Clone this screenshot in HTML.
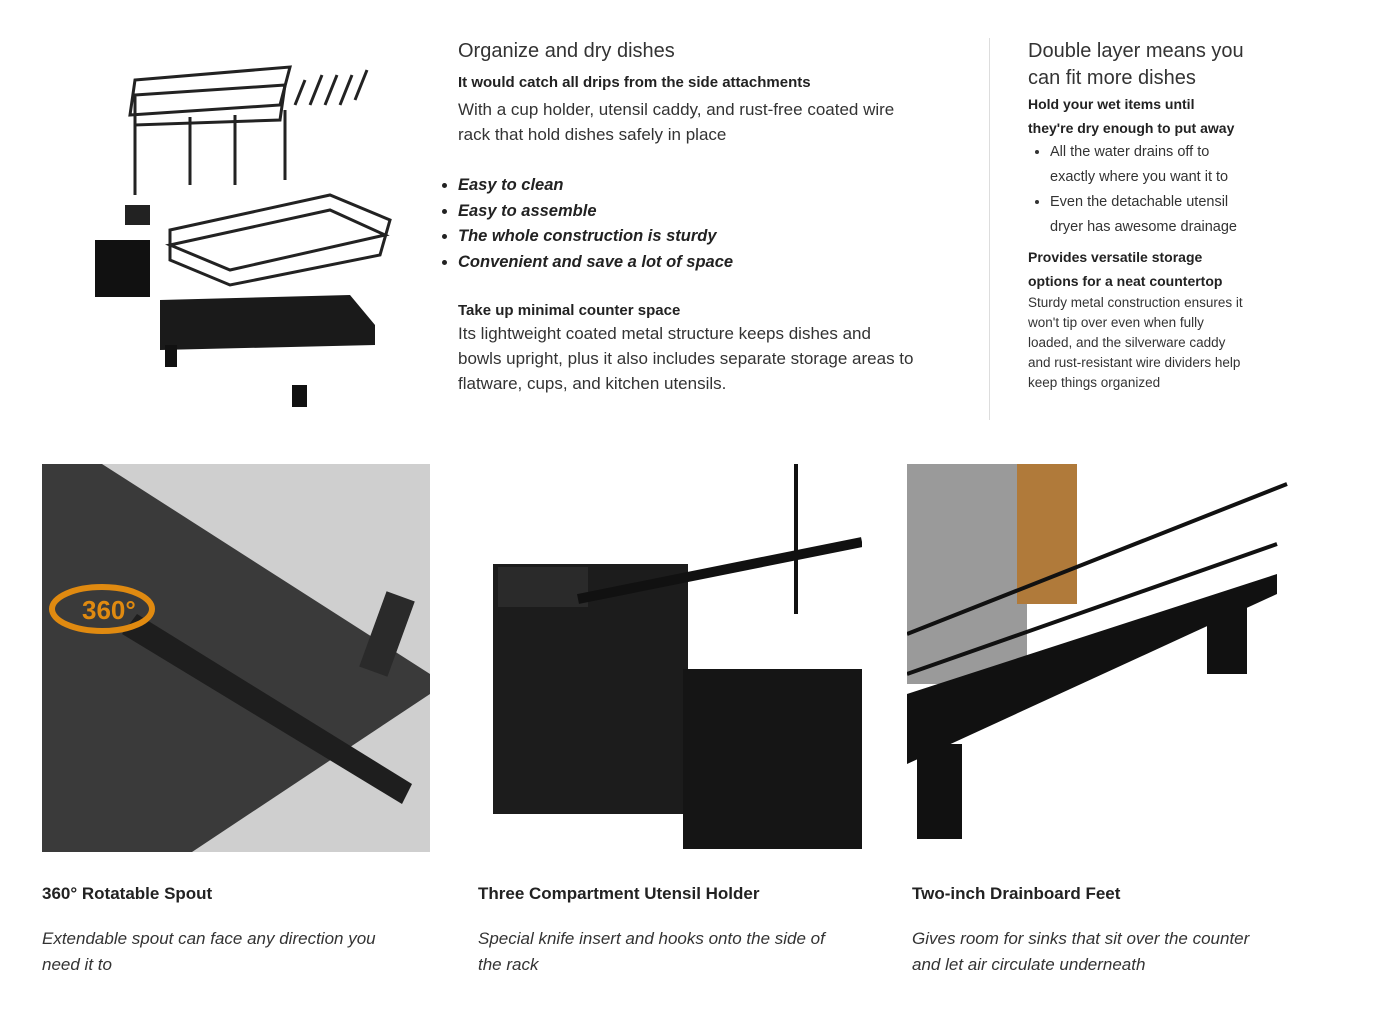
<!DOCTYPE html>
<html><head><meta charset="utf-8"><style>
body{margin:0;width:1381px;height:1014px;background:#fff;position:relative;overflow:hidden;font-family:"Liberation Sans",sans-serif;color:#222}
.a{position:absolute}
h2{font-weight:normal;font-size:20px;margin:0;color:#333}
.b{font-weight:bold;font-size:15px;color:#222}
.t{font-size:17px;line-height:25px;color:#333;width:460px}
ul{margin:0;padding-left:16px}
.it li{font-style:italic;font-weight:bold;font-size:16.5px;line-height:25.5px;color:#222}
.s li{font-size:14.5px;line-height:25px;color:#333;white-space:nowrap}
.cap{font-weight:bold;font-size:17px;color:#222}
.ci{font-style:italic;font-size:17px;line-height:26px;color:#333}
.rb{font-weight:bold;font-size:14px;line-height:24px;color:#222;white-space:nowrap}
</style></head><body>
<svg class="a" style="left:90px;top:45px" width="320" height="370">
<g fill="none" stroke="#222" stroke-width="3">
<polygon points="45,35 200,22 190,60 40,70"/><polygon points="45,50 195,40 190,75 45,80"/>
<line x1="45" y1="75" x2="45" y2="150"/><line x1="100" y1="72" x2="100" y2="140"/>
<line x1="145" y1="70" x2="145" y2="140"/><line x1="195" y1="65" x2="195" y2="135"/>
<polygon points="80,185 240,150 300,175 290,210 140,240 80,215"/>
<polygon points="80,200 240,165 295,190 140,225"/>
<path d="M205,60 l10,-25 M220,60 l12,-30 M235,60 l12,-30 M250,60 l12,-30 M265,55 l12,-30"/>
</g>
<rect x="5" y="195" width="55" height="57" fill="#111"/><rect x="35" y="160" width="25" height="20" fill="#222"/>
<polygon points="70,255 260,250 285,280 285,300 70,305" fill="#1a1a1a"/>
<rect x="75" y="300" width="12" height="22" fill="#111"/><rect x="202" y="340" width="15" height="22" fill="#111"/>
</svg>
<div class="a" style="left:458px;top:40px;width:500px">
<h2>Organize and dry dishes</h2>
<div class="b" style="margin-top:11px">It would catch all drips from the side attachments</div>
<div class="t" style="margin-top:6px">With a cup holder, utensil caddy, and rust-free coated wire rack that hold dishes safely in place</div>
<ul class="it" style="margin-top:26px;margin-left:-16px"><li>Easy to clean</li><li>Easy to assemble</li><li>The whole construction is sturdy</li><li>Convenient and save a lot of space</li></ul>
<div class="b" style="margin-top:27px">Take up minimal counter space</div>
<div class="t" style="margin-top:2px">Its lightweight coated metal structure keeps dishes and bowls upright, plus it also includes separate storage areas to flatware, cups, and kitchen utensils.</div>
</div>
<div class="a" style="left:989px;top:38px;width:1px;height:382px;background:#ddd"></div>
<div class="a" style="left:1028px;top:38px;width:260px">
<h2 style="line-height:27px;width:240px">Double layer means you can fit more dishes</h2>
<div class="rb">Hold your wet items until<br>they're dry enough to put away</div>
<ul class="s" style="margin-left:6px"><li>All the water drains off to<br>exactly where you want it to</li><li>Even the detachable utensil<br>dryer has awesome drainage</li></ul>
<div class="rb" style="margin-top:5px">Provides versatile storage<br>options for a neat countertop</div>
<div style="font-size:13.5px;line-height:20px;color:#333;white-space:nowrap">Sturdy metal construction ensures it<br>won't tip over even when fully<br>loaded, and the silverware caddy<br>and rust-resistant wire dividers help<br>keep things organized</div>
</div>
<svg class="a" style="left:42px;top:464px" width="388" height="388">
<rect width="388" height="388" fill="#cfcfcf"/>
<polygon points="0,0 60,0 388,210 388,230 150,388 0,388" fill="#3a3a3a"/>
<polygon points="80,170 360,340 370,320 95,150" fill="#1e1e1e"/>
<rect x="330" y="130" width="30" height="80" fill="#2a2a2a" transform="rotate(20 345 170)"/>
<ellipse cx="60" cy="145" rx="50" ry="22" fill="none" stroke="#e08a10" stroke-width="6"/>
<text x="40" y="155" font-family="Liberation Sans" font-size="26" font-weight="bold" fill="#e08a10">360°</text>
</svg>
<svg class="a" style="left:478px;top:464px" width="384" height="388">
<rect x="15" y="100" width="195" height="250" fill="#1c1c1c"/><rect x="20" y="103" width="90" height="40" fill="#2a2a2a"/>
<rect x="205" y="205" width="180" height="180" fill="#151515"/>
<line x1="100" y1="135" x2="384" y2="78" stroke="#111" stroke-width="10"/>
<line x1="318" y1="0" x2="318" y2="150" stroke="#111" stroke-width="4"/>
</svg>
<svg class="a" style="left:907px;top:464px" width="384" height="388">
<rect x="0" y="0" width="120" height="220" fill="#9a9a9a"/><rect x="110" y="0" width="60" height="140" fill="#b07a3a"/>
<polygon points="0,230 370,110 370,130 0,300" fill="#111"/>
<g stroke="#111" stroke-width="4" fill="none"><path d="M0,210 L370,80 M0,170 L380,20"/></g>
<rect x="10" y="280" width="45" height="95" fill="#111"/><rect x="300" y="140" width="40" height="70" fill="#111"/>
</svg>
<div class="a cap" style="left:42px;top:884px">360° Rotatable Spout</div>
<div class="a ci" style="left:42px;top:926px;width:372px">Extendable spout can face any direction you need it to</div>
<div class="a cap" style="left:478px;top:884px">Three Compartment Utensil Holder</div>
<div class="a ci" style="left:478px;top:926px;width:370px">Special knife insert and hooks onto the side of the rack</div>
<div class="a cap" style="left:912px;top:884px">Two-inch Drainboard Feet</div>
<div class="a ci" style="left:912px;top:926px;width:360px">Gives room for sinks that sit over the counter and let air circulate underneath</div>
</body></html>
